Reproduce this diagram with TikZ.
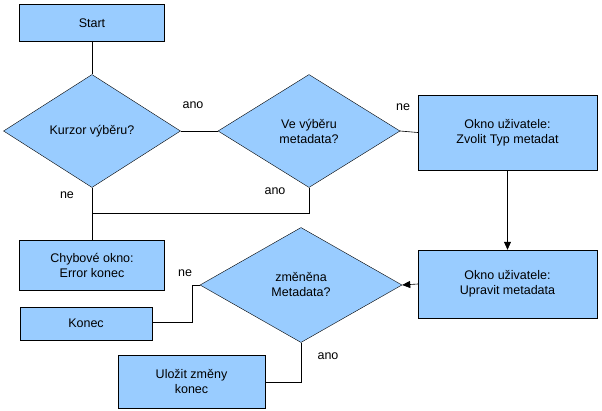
\documentclass[tikz,border=0pt]{standalone}
\usepackage{fontspec}
\setmainfont{Liberation Sans}
\usetikzlibrary{shapes.geometric,arrows.meta}
\begin{document}
\begin{tikzpicture}[x=1pt,y=-1pt,
  every node/.style={font=\fontsize{12.5}{15}\selectfont},
  box/.style={draw,fill=blue!40!cyan!35,fill={rgb,255:red,153;green,204;blue,255},align=center,inner sep=0},
  dia/.style={draw,fill={rgb,255:red,153;green,204;blue,255},shape=diamond,align=center,inner sep=0},
  lbl/.style={inner sep=0},
  line/.style={draw,line width=0.6pt}]
\useasboundingbox (0,0) rectangle (602,410);
\node[box,minimum width=145,minimum height=37] (start) at (92,23) {Start};
\node[dia,minimum width=177,minimum height=113] (d1) at (92,131) {Kurzor výběru?};
\node[dia,minimum width=182,minimum height=113] (d2) at (309,131) {Ve výběru\\metadata?};
\node[box,minimum width=179,minimum height=75] (o1) at (507.5,132.5) {Okno uživatele:\\Zvolit Typ metadat};
\node[box,minimum width=145,minimum height=50] (err) at (92,265) {Chybové okno:\\Error konec};
\node[box,minimum width=179,minimum height=68] (o2) at (507.5,284) {Okno uživatele:\\Upravit metadata};
\node[dia,minimum width=202,minimum height=115] (d3) at (301,285) {změněna\\Metadata?};
\node[box,minimum width=132,minimum height=33] (konec) at (86,323.5) {Konec};
\node[box,minimum width=147,minimum height=53] (ulozit) at (191.5,381.5) {Uložit změny\\konec};
\coordinate (j1) at (92,213);
\coordinate (j2) at (309,213);
\coordinate (j3) at (192,285);
\coordinate (j4) at (192,322);
\coordinate (j5) at (301,382);
\draw[line] (start) -- (d1);
\draw[line] (d1.east) -- (d2.west);
\draw[line] (d2.east) -- (o1.west);
\draw[line] (d1.south) -- (err.north);
\draw[line] (d2.south) -- (j2) -- (j1);
\draw[line,-{Triangle[length=8pt,width=7pt]}] (o1.south) -- (o2.north);
\draw[line,-{Triangle[length=8pt,width=7pt]}] (o2.west) -- (d3.east);
\draw[line] (d3.west) -- (j3) -- (j4) -- (konec.east |- j4);
\draw[line] (d3.south) -- (j5) -- (ulozit.east |- j5);
\node[lbl] (l1) at (193,105) {ano};
\node[lbl] (l2) at (403,107) {ne};
\node[lbl] (l3) at (67,195) {ne};
\node[lbl] (l4) at (275,191) {ano};
\node[lbl] (l5) at (185,273) {ne};
\node[lbl] (l6) at (328,356) {ano};
\end{tikzpicture}
\end{document}
